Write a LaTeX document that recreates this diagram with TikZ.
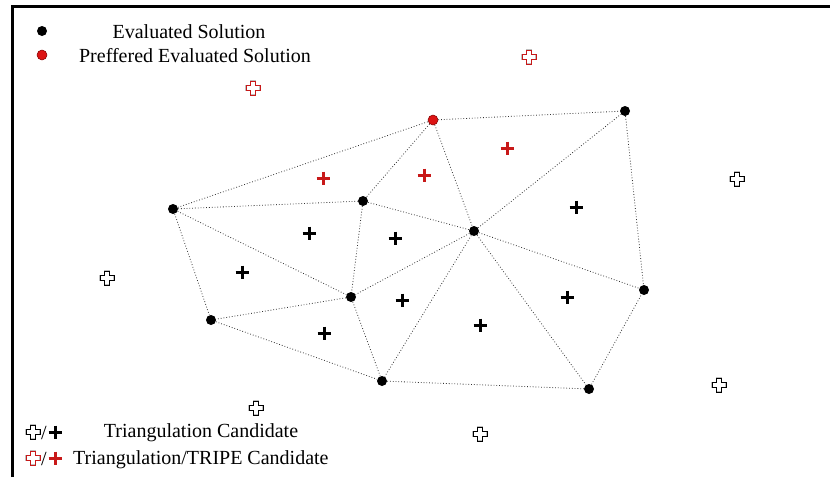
\documentclass[tikz,border=0pt]{standalone}
\usepackage{fontspec}
\setmainfont{Liberation Serif}
\usetikzlibrary{positioning}
\definecolor{prefred}{RGB}{220,20,20}
\definecolor{candred}{RGB}{200,25,25}
\tikzset{
  evaldot/.style={circle,fill=black,inner sep=0pt,minimum size=10pt},
  prefdot/.style={circle,fill=prefred,draw=red!50!black,line width=0.5pt,inner sep=0pt,minimum size=10pt},
  tri/.style={dotted,line width=0.8pt,black!80},
  lbl/.style={font=\fontsize{20}{24}\selectfont,inner sep=0pt},
  solidcross/.pic={\draw[line width=3pt,pic actions] (-6.5,0)--(6.5,0) (0,-6.5)--(0,6.5);},
  hollowcross/.pic={\draw[line width=1.8pt,black!25,fill=white] (-2.5,-7)--(2.5,-7)--(2.5,-2.5)--(7,-2.5)--(7,2.5)--(2.5,2.5)--(2.5,7)--(-2.5,7)--(-2.5,2.5)--(-7,2.5)--(-7,-2.5)--(-2.5,-2.5)--cycle;
    \draw[line width=0.8pt,pic actions] (-2.5,-7)--(2.5,-7)--(2.5,-2.5)--(7,-2.5)--(7,2.5)--(2.5,2.5)--(2.5,7)--(-2.5,7)--(-2.5,2.5)--(-7,2.5)--(-7,-2.5)--(-2.5,-2.5)--cycle;}
}
\begin{document}
\begin{tikzpicture}[x=1pt,y=-1pt]
  \useasboundingbox (0,0) rectangle (830,477);
  % frame
  \draw[line width=3pt] (12,477) -- (12,6) -- (830,6);
  % evaluated solutions
  \node[evaldot] (a) at (173,209) {};
  \node[evaldot] (b) at (363,201) {};
  \node[evaldot] (c) at (474,231) {};
  \node[evaldot] (d) at (351,297) {};
  \node[evaldot] (e) at (211,320) {};
  \node[evaldot] (f) at (382,381) {};
  \node[evaldot] (g) at (589,389) {};
  \node[evaldot] (h) at (644,290) {};
  \node[evaldot] (i) at (625,111) {};
  \node[prefdot] (r) at (433,120) {};
  % triangulation
  \draw[tri] (a) -- (r);
  \draw[tri] (a) -- (b);
  \draw[tri] (a) -- (d);
  \draw[tri] (a) -- (e);
  \draw[tri] (r) -- (b);
  \draw[tri] (r) -- (c);
  \draw[tri] (r) -- (i);
  \draw[tri] (b) -- (c);
  \draw[tri] (b) -- (d);
  \draw[tri] (c) -- (d);
  \draw[tri] (c) -- (i);
  \draw[tri] (c) -- (h);
  \draw[tri] (c) -- (f);
  \draw[tri] (c) -- (g);
  \draw[tri] (i) -- (h);
  \draw[tri] (d) -- (e);
  \draw[tri] (d) -- (f);
  \draw[tri] (e) -- (f);
  \draw[tri] (f) -- (g);
  \draw[tri] (g) -- (h);
  % candidates inside
  \pic at (309,233) {solidcross};
  \pic at (395,238) {solidcross};
  \pic at (242,272) {solidcross};
  \pic at (576,207) {solidcross};
  \pic at (402,300) {solidcross};
  \pic at (567,297) {solidcross};
  \pic at (324,333) {solidcross};
  \pic at (480,325) {solidcross};
  \pic[candred] at (323,178) {solidcross};
  \pic[candred] at (424,175) {solidcross};
  \pic[candred] at (507,148) {solidcross};
  % candidates outside
  \pic[black] at (107,278) {hollowcross};
  \pic[black] at (737,179) {hollowcross};
  \pic[black] at (719,385) {hollowcross};
  \pic[black] at (256,408) {hollowcross};
  \pic[black] at (480,434) {hollowcross};
  \pic[candred] at (253,88) {hollowcross};
  \pic[candred] at (529,57) {hollowcross};
  % legend
  \node[evaldot] (leval) at (42,31) {};
  \node[lbl] (teval) at (189,32) {Evaluated Solution};
  \node[prefdot] (lpref) at (42,55) {};
  \node[lbl] (tpref) at (195,56) {Preffered Evaluated Solution};
  \pic[black] at (33,432) {hollowcross};
  \node[lbl] (slash1) at (44,433) {/};
  \pic at (55,432) {solidcross};
  \node[lbl] (ttri) at (201,433) {Triangulation Candidate};
  \pic[candred] at (33,458) {hollowcross};
  \node[lbl] (slash2) at (44,459) {/};
  \pic[candred] at (55,458) {solidcross};
  \node[lbl,anchor=west] (ttripe) at (73,460) {Triangulation/TRIPE Candidate};
\end{tikzpicture}
\end{document}
